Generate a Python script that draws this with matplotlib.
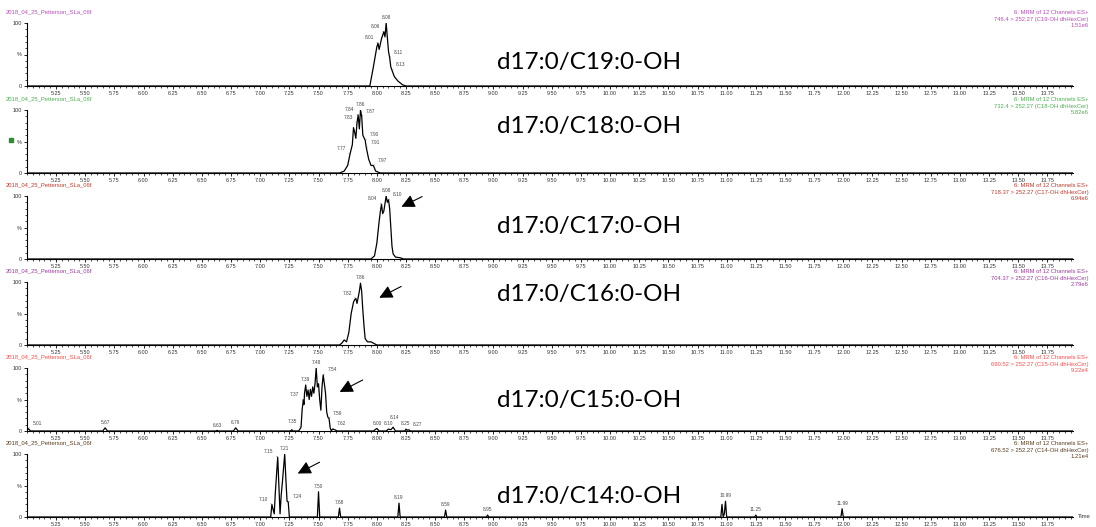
import matplotlib
matplotlib.use("Agg")
import matplotlib.pyplot as plt
from matplotlib.ticker import MultipleLocator, FixedLocator

W, H = 1096, 527

sample_name = "2018_04_25_Petterson_SLa_06f"

# panel texts
compounds = ["d17:0/C19:0-OH", "d17:0/C18:0-OH", "d17:0/C17:0-OH",
             "d17:0/C16:0-OH", "d17:0/C15:0-OH", "d17:0/C14:0-OH"]
channels = ["746.4 > 252.27 (C19-OH dhHexCer)", "732.4 > 252.27 (C18-OH dhHexCer)",
            "718.37 > 252.27 (C17-OH dhHexCer)", "704.37 > 252.27 (C16-OH dhHexCer)",
            "690.52 > 252.27 (C15-OH dhHexCer)", "676.52 > 252.27 (C14-OH dhHexCer)"]
max_int = ["1.51e6", "5.82e6", "6.94e6", "2.79e6", "9.22e4", "1.21e4"]
colors = ["#b84cb8", "#4caf50", "#c0392b", "#9c3c9c", "#ff4b4b", "#5a3c1e"]

# traces (time, % intensity)
c19_t = [5.0, 7.94, 7.97, 8.00, 8.01, 8.02, 8.04, 8.06, 8.07, 8.08, 8.10, 8.11, 8.12, 8.13, 8.15, 8.18, 8.22, 8.25, 13.97]
c19_y = [0, 0, 30, 62, 68, 58, 75, 86, 78, 100, 55, 45, 30, 25, 15, 8, 2, 0, 0]
c19_pk = [(8.01, 68, "l"), (8.06, 86, "l"), (8.08, 100, "c"), (8.11, 45, "r"), (8.13, 25, "r")]

c18_t = [5.0, 7.68, 7.72, 7.75, 7.77, 7.79, 7.80, 7.81, 7.82, 7.83, 7.84, 7.85, 7.86, 7.87, 7.88, 7.90, 7.91, 7.93, 7.95, 7.97, 7.99, 8.03, 13.97]
c18_y = [0, 0, 3, 12, 30, 45, 72, 65, 55, 80, 92, 70, 100, 90, 60, 52, 40, 22, 12, 12, 3, 0, 0]
c18_pk = [(7.77, 30, "l"), (7.83, 80, "l"), (7.84, 92, "l"), (7.86, 100, "c"),
          (7.87, 90, "r"), (7.90, 52, "r"), (7.91, 40, "r"), (7.97, 12, "r")]

c17_t = [5.0, 7.95, 7.98, 8.00, 8.02, 8.03, 8.04, 8.05, 8.06, 8.07, 8.08, 8.09, 8.10, 8.11, 8.12, 8.13, 8.14, 8.16, 8.20, 8.23, 13.97]
c17_y = [0, 0, 5, 25, 60, 75, 87, 72, 76, 88, 100, 90, 94, 80, 50, 20, 8, 3, 2, 0, 0]
c17_pk = [(8.04, 87, "l"), (8.08, 100, "c"), (8.10, 94, "r")]

c16_t = [5.0, 7.68, 7.70, 7.72, 7.74, 7.76, 7.78, 7.80, 7.81, 7.82, 7.83, 7.85, 7.86, 7.87, 7.88, 7.89, 7.90, 7.92, 7.95, 7.98, 8.00, 13.97]
c16_y = [0, 0, 3, 8, 5, 20, 50, 68, 72, 74, 66, 85, 98, 85, 55, 30, 10, 5, 5, 2, 0, 0]
c16_pk = [(7.82, 74, "l"), (7.86, 98, "c")]

c15_t = [5.0, 5.01, 5.03, 5.65, 5.67, 5.69, 6.62, 6.63, 6.64, 6.77, 6.79, 6.81, 7.26, 7.27, 7.28,
         7.33, 7.34, 7.35, 7.36, 7.37, 7.375, 7.38, 7.39, 7.40, 7.41, 7.42, 7.43, 7.44, 7.45, 7.46,
         7.47, 7.48, 7.49, 7.50, 7.51, 7.52, 7.53, 7.54, 7.55, 7.56, 7.57, 7.58, 7.59, 7.60, 7.61,
         7.62, 7.64, 7.66, 7.97, 8.00, 8.02, 8.08, 8.10, 8.12, 8.14, 8.16, 8.24, 8.25, 8.26, 8.27, 8.29, 13.97]
c15_y = [0, 4, 0, 0, 5, 0, 0, 1, 0, 0, 5, 0, 0, 2, 0,
         0, 3, 6, 35, 49, 42, 60, 73, 55, 65, 50, 66, 55, 70, 60,
         75, 100, 70, 75, 50, 33, 70, 89, 75, 60, 30, 22, 20, 5, 0,
         3, 2, 0, 0, 4, 0, 0, 3, 2, 6, 0, 0, 3, 1, 2, 0, 0]
c15_pk = [(5.01, 4, "r"), (5.67, 5, "c"), (6.63, 1, "c"), (6.79, 5, "c"), (7.35, 6, "l"),
          (7.37, 49, "l"), (7.39, 73, "c"), (7.48, 100, "c"), (7.54, 89, "r"), (7.59, 20, "r"),
          (7.62, 3, "r"), (8.00, 4, "c"), (8.10, 3, "c"), (8.14, 6, "u"), (8.25, 3, "c"), (8.27, 2, "r")]

c14_t = [5.0, 7.09, 7.10, 7.11, 7.12, 7.13, 7.15, 7.16, 7.17, 7.18, 7.19, 7.21, 7.22, 7.23, 7.24, 7.25,
         7.49, 7.50, 7.51, 7.67, 7.68, 7.69, 8.18, 8.19, 8.20, 8.58, 8.59, 8.60, 8.94, 8.95, 8.96,
         10.95, 10.96, 10.97, 10.98, 10.99, 11.00, 11.24, 11.25, 11.26, 11.98, 11.99, 12.00, 13.97]
c14_y = [0, 0, 20, 12, 5, 40, 95, 50, 5, 35, 55, 100, 60, 25, 24, 0,
         0, 40, 0, 0, 14, 0, 0, 22, 0, 0, 11, 0, 0, 3, 0,
         0, 20, 0, 5, 25, 0, 0, 3, 0, 0, 13, 0, 0]
c14_pk = [(7.10, 20, "l"), (7.15, 95, "l"), (7.21, 100, "c"), (7.24, 24, "r"), (7.50, 40, "c"),
          (7.68, 14, "c"), (8.19, 22, "c"), (8.59, 11, "c"), (8.95, 3, "c"), (10.99, 25, "c"),
          (11.25, 3, "c"), (11.99, 13, "c")]

traces = [(c19_t, c19_y, c19_pk), (c18_t, c18_y, c18_pk), (c17_t, c17_y, c17_pk),
          (c16_t, c16_y, c16_pk), (c15_t, c15_y, c15_pk), (c14_t, c14_y, c14_pk)]

# arrows (tail, head) in data units, panels 3-6
arrows = {2: ((8.41, 101), (8.19, 81)), 3: ((8.23, 95), (8.00, 73)),
          4: ((7.90, 83), (7.66, 60)), 5: ((7.53, 89), (7.30, 67))}

baselines = [86, 173, 259, 345, 431, 517]
x_left, x_right = 27, 1073
tick_font = "Liberation Sans"

fig = plt.figure(figsize=(W / 100, H / 100), dpi=100)

for i, (t, y, peaks) in enumerate(traces):
    b = baselines[i]
    ax = fig.add_axes([x_left / W, (H - b) / H, (x_right - x_left) / W, 63 / H])
    ax.plot(t, y, color="black", lw=0.9)
    ax.set_xlim(5.0, 13.97)
    ax.set_ylim(0, 100)
    for s in ["top", "right"]:
        ax.spines[s].set_visible(False)
    ax.spines["left"].set_linewidth(0.8)
    ax.spines["bottom"].set_linewidth(0.8)
    ax.xaxis.set_major_locator(FixedLocator([5.25 + 0.25 * k for k in range(35)]))
    ax.xaxis.set_minor_locator(MultipleLocator(0.05))
    ax.set_xticklabels(["%.2f" % (5.25 + 0.25 * k) for k in range(35)])
    ax.set_yticks([0, 50, 100])
    ax.set_yticklabels(["0", "%", "100"])
    ax.yaxis.set_minor_locator(MultipleLocator(10))
    ax.tick_params(axis="both", which="major", length=2.5, width=0.6, labelsize=4, pad=1.2)
    ax.tick_params(axis="both", which="minor", length=1.5, width=0.5)
    for lab in ax.get_xticklabels() + ax.get_yticklabels():
        lab.set_fontfamily(tick_font)
        lab.set_color("#333333")

    for rt, h, side in peaks:
        dx = {"l": -3, "c": 0, "r": 3, "u": 1}[side]
        dy = 5 if side == "u" else 2
        ha = {"l": "right", "c": "center", "r": "left", "u": "center"}[side]
        ap = None if side in ("c", "u") else dict(arrowstyle="-", lw=0.3, color="#555555", shrinkA=0, shrinkB=0)
        ax.annotate("%.2f" % rt, (rt, h), xytext=(dx, dy), textcoords="offset points",
                    ha=ha, va="bottom", fontsize=3.4, color="#444444", family=tick_font,
                    arrowprops=ap, annotation_clip=False)

    ax.text(-0.02, 1.17, sample_name, transform=ax.transAxes, fontsize=4.2,
            color=colors[i], family=tick_font, ha="left", va="center")
    ax.text(1.015, 1.16, "6: MRM of 12 Channels ES+", transform=ax.transAxes, fontsize=4.2,
            color=colors[i], family=tick_font, ha="right", va="center")
    ax.text(1.015, 1.06, channels[i], transform=ax.transAxes, fontsize=4.2,
            color=colors[i], family=tick_font, ha="right", va="center")
    ax.text(1.015, 0.96, max_int[i], transform=ax.transAxes, fontsize=4.2,
            color=colors[i], family=tick_font, ha="right", va="center")

    if i in arrows:
        tail, head = arrows[i]
        ax.annotate("", xy=head, xytext=tail,
                    arrowprops=dict(arrowstyle="-|>,head_length=0.8,head_width=0.4",
                                    lw=0.8, color="black"), annotation_clip=False)

    label_y = {0: 23, 1: 46, 2: 32, 3: 50, 4: 31, 5: 20}[i]
    fig.text(497 / W, (H - b + label_y) / H, compounds[i], fontsize=17.5,
             family="Lato", ha="left", va="center")

    if i == len(traces) - 1:
        ax.text(1.005, 0, "Time", transform=ax.transAxes, fontsize=4.2,
                family=tick_font, ha="left", va="center", color="#333333")

# little green marker left of panel 2
fig.patches.append(plt.Rectangle((9 / W, (H - 142) / H), 4 / W, 4 / H,
                                 transform=fig.transFigure, color="#2e8b2e"))

fig.savefig("out.png", dpi=100)
